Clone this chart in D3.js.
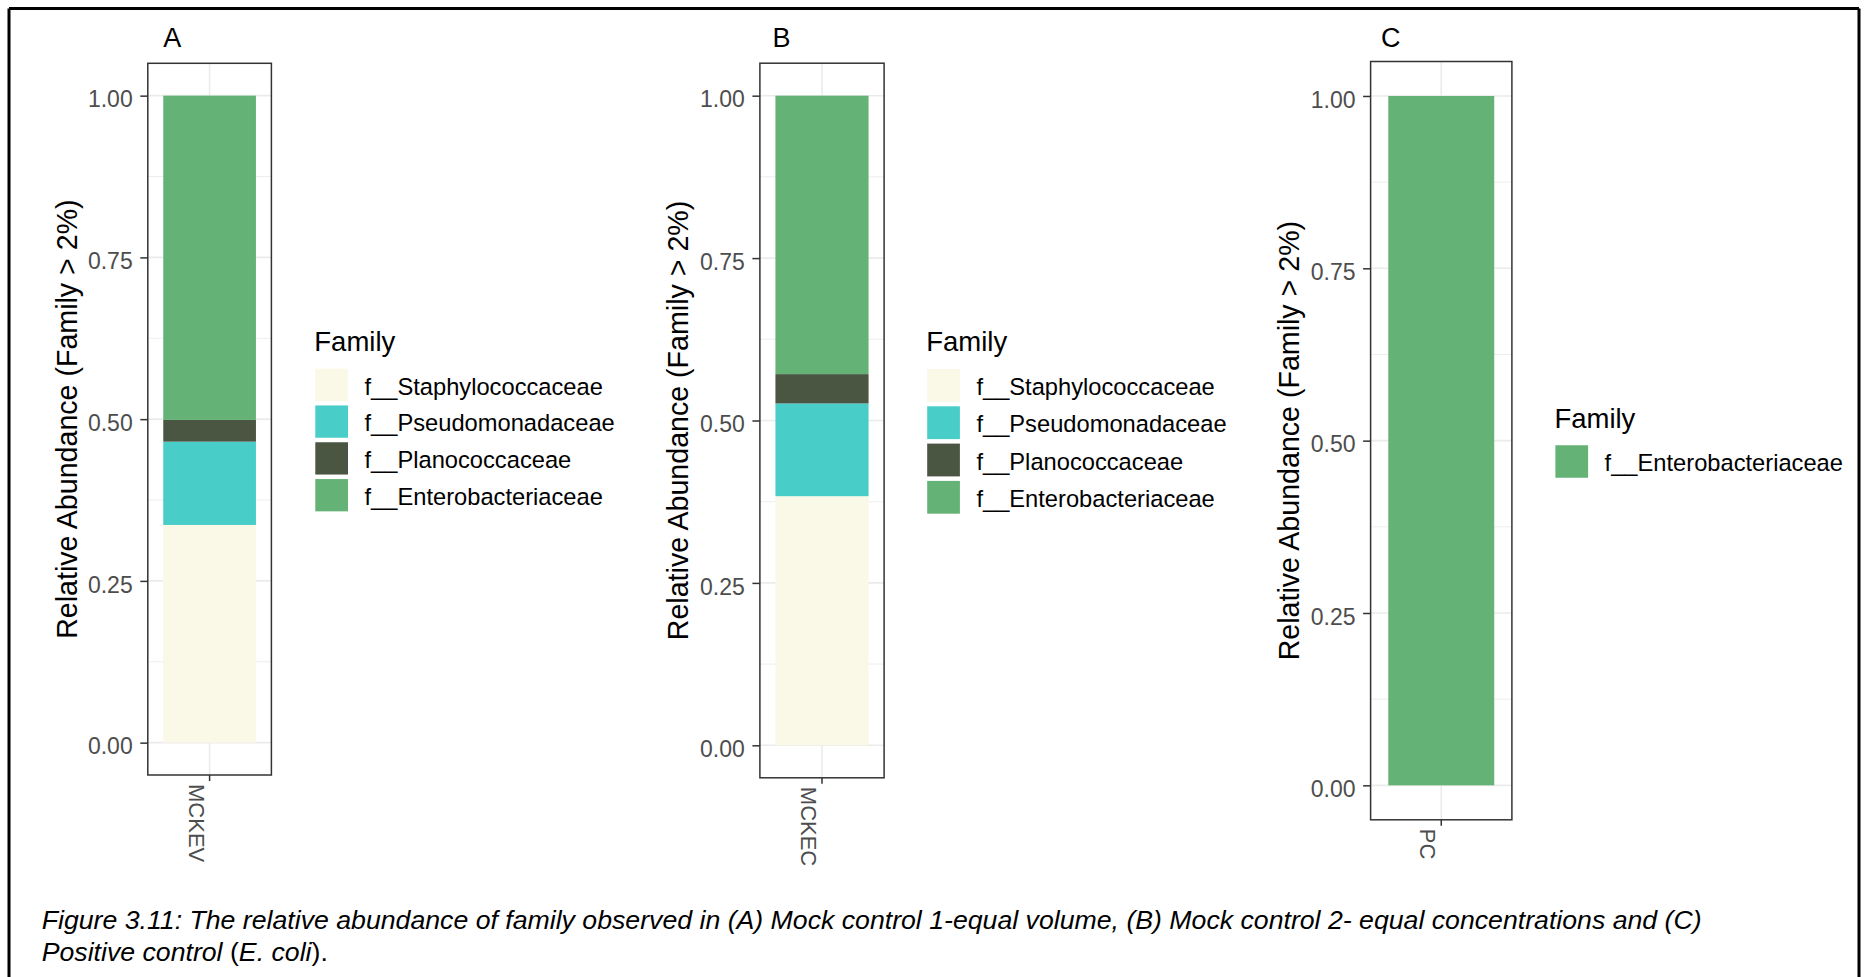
<!DOCTYPE html>
<html>
<head>
<meta charset="utf-8">
<script src="https://cdn.jsdelivr.net/npm/d3@7"></script>
<style>
  body { margin: 0; background: #ffffff; }
  svg { display: block; }
  text { font-family: "Liberation Sans", Arial, Helvetica, sans-serif; }
</style>
</head>
<body>
<svg id="chart" width="1868" height="977"></svg>
<script>
// ---------------- data ----------------
const panelLabels = ["A", "B", "C"];
const sampleNames = ["MCKEV", "MCKEC", "PC"];
const familyNames = ["f__Staphylococcaceae", "f__Pseudomonadaceae", "f__Planococcaceae", "f__Enterobacteriaceae"];
const familyColors = ["#FAF8E6", "#48CDC8", "#4B5642", "#65B276"];
const staphylococcaceae  = [0.3365, 0.3835, 0];
const pseudomonadaceae   = [0.1287, 0.1428, 0];
const planococcaceae     = [0.0336, 0.0451, 0];
const enterobacteriaceae = [0.5012, 0.4286, 1.0];
const yTickValues = [0, 0.25, 0.5, 0.75, 1];
const yTickLabels = ["0.00", "0.25", "0.50", "0.75", "1.00"];
const yMinorValues = [0.125, 0.375, 0.625, 0.875];
const yAxisTitle = "Relative Abundance (Family > 2%)";
const legendTitle = "Family";
const captionLine1 = "Figure 3.11: The relative abundance of family observed in (A) Mock control 1-equal volume, (B) Mock control 2- equal concentrations and (C)";

// ---------------- layout (positions only) ----------------
const panelLayout = [
  { left: 147.8,  right: 271.4,  top: 63.3, bottom: 775.0, letterX: 163.3,  titleX: 77,    legendX: 314.3,  step: 36.8 },
  { left: 759.9,  right: 884.1,  top: 63.2, bottom: 777.8, letterX: 772.6,  titleX: 687.5, legendX: 926.2,  step: 37.3 },
  { left: 1370.6, right: 1511.9, top: 61.5, bottom: 819.8, letterX: 1381,   titleX: 1299,  legendX: 1554.4, step: 37.0 }
];

const svg = d3.select("#chart");
svg.append("rect").attr("width", 1868).attr("height", 977).attr("fill", "#ffffff");

// outer frame
const frame = svg.append("g").attr("stroke", "#000").attr("stroke-width", 3).attr("fill", "none");
frame.append("line").attr("x1", 9).attr("x2", 1859).attr("y1", 8.5).attr("y2", 8.5);
frame.append("line").attr("x1", 9).attr("x2", 9).attr("y1", 8.5).attr("y2", 977);
frame.append("line").attr("x1", 1859).attr("x2", 1859).attr("y1", 8.5).attr("y2", 977);

const seriesByFamily = [staphylococcaceae, pseudomonadaceae, planococcaceae, enterobacteriaceae];
const colorScale = d3.scaleOrdinal().domain(familyNames).range(familyColors);

panelLayout.forEach((L, i) => {
  const g = svg.append("g");
  const row = { sample: sampleNames[i] };
  familyNames.forEach((f, k) => row[f] = seriesByFamily[k][i]);
  const present = familyNames.filter(f => row[f] > 0);

  const y = d3.scaleLinear().domain([-0.05, 1.05]).range([L.bottom, L.top]);
  const x = d3.scaleBand().domain([sampleNames[i]]).range([L.left, L.right])
              .paddingInner(0.1).paddingOuter(0.15);

  // grid
  const grid = g.append("g");
  grid.selectAll("line.minor").data(yMinorValues).join("line")
    .attr("x1", L.left).attr("x2", L.right)
    .attr("y1", d => y(d)).attr("y2", d => y(d))
    .attr("stroke", "#EBEBEB").attr("stroke-width", 0.9);
  grid.selectAll("line.major").data(yTickValues).join("line")
    .attr("x1", L.left).attr("x2", L.right)
    .attr("y1", d => y(d)).attr("y2", d => y(d))
    .attr("stroke", "#EBEBEB").attr("stroke-width", 1.6);
  grid.append("line")
    .attr("x1", x(sampleNames[i]) + x.bandwidth() / 2).attr("x2", x(sampleNames[i]) + x.bandwidth() / 2)
    .attr("y1", L.top).attr("y2", L.bottom)
    .attr("stroke", "#EBEBEB").attr("stroke-width", 1.6);

  // stacked bar
  const stacked = d3.stack().keys(present)([row]);
  g.append("g").selectAll("rect").data(stacked).join("rect")
    .attr("x", x(sampleNames[i]))
    .attr("width", x.bandwidth())
    .attr("y", s => y(s[0][1]))
    .attr("height", s => y(s[0][0]) - y(s[0][1]))
    .attr("fill", s => colorScale(s.key));

  // panel border
  g.append("rect")
    .attr("x", L.left).attr("y", L.top)
    .attr("width", L.right - L.left).attr("height", L.bottom - L.top)
    .attr("fill", "none").attr("stroke", "#333333").attr("stroke-width", 1.5);

  // y axis
  const yAxis = g.append("g").attr("transform", `translate(${L.left},0)`)
    .call(d3.axisLeft(y).tickValues(yTickValues).tickFormat((d, j) => yTickLabels[j])
          .tickSize(7.5).tickPadding(7.6));
  yAxis.select(".domain").remove();
  yAxis.selectAll(".tick line").attr("stroke", "#333333").attr("stroke-width", 1.5);
  yAxis.selectAll(".tick text").attr("fill", "#4D4D4D").attr("font-size", 23)
    .attr("dy", "0.49em").style("font-family", "'Liberation Sans', Arial, sans-serif");

  // x axis
  const xAxis = g.append("g").attr("transform", `translate(0,${L.bottom})`)
    .call(d3.axisBottom(x).tickSize(6).tickPadding(0));
  xAxis.select(".domain").remove();
  xAxis.selectAll(".tick line").attr("stroke", "#333333").attr("stroke-width", 1.5);
  xAxis.selectAll(".tick text")
    .attr("x", 0).attr("y", 0).attr("dy", 0)
    .attr("transform", "translate(-21,9) rotate(90)")
    .attr("text-anchor", "start")
    .attr("fill", "#4D4D4D").attr("font-size", 22)
    .style("font-family", "'Liberation Sans', Arial, sans-serif");

  const centerY = (L.top + L.bottom) / 2;

  // y title
  g.append("text")
    .attr("transform", `translate(${L.titleX},${centerY}) rotate(-90)`)
    .attr("text-anchor", "middle").attr("font-size", 28.6).attr("fill", "#000")
    .text(yAxisTitle);

  // panel letter
  g.append("text").attr("x", L.letterX).attr("y", 46.7)
    .attr("font-size", 27).attr("fill", "#000").text(panelLabels[i]);

  // legend
  const n = present.length;
  const H = 33 + n * L.step;
  const titleBase = centerY - H / 2 + 22;
  const leg = g.append("g");
  leg.append("text").attr("x", L.legendX).attr("y", titleBase)
    .attr("font-size", 27.5).attr("fill", "#000").text(legendTitle);
  const items = leg.selectAll("g.item").data(present).join("g")
    .attr("transform", (d, k) => `translate(0,${titleBase + 15.6 + k * L.step})`);
  items.append("rect")
    .attr("x", L.legendX + 1).attr("y", 2)
    .attr("width", 32.7).attr("height", L.step - 4.5)
    .attr("fill", d => colorScale(d));
  items.append("text")
    .attr("x", L.legendX + 50.2).attr("y", L.step / 2 + 9.5)
    .attr("font-size", 23.7).attr("fill", "#000").text(d => d);
});

// caption
const cap1 = svg.append("text").attr("x", 41.7).attr("y", 929)
  .attr("font-size", 24).attr("font-style", "italic").attr("fill", "#000").text(captionLine1);
const len = cap1.node().getComputedTextLength();
const capSize = 24 * 1661 / len;
cap1.attr("font-size", capSize);
const cap2 = svg.append("text").attr("x", 41.7).attr("y", 929 + capSize * 1.2)
  .attr("font-size", capSize).attr("fill", "#000");
cap2.append("tspan").attr("font-style", "italic").text("Positive control ");
cap2.append("tspan").text("(");
cap2.append("tspan").attr("font-style", "italic").text("E. coli");
cap2.append("tspan").text(").");
</script>
</body>
</html>
